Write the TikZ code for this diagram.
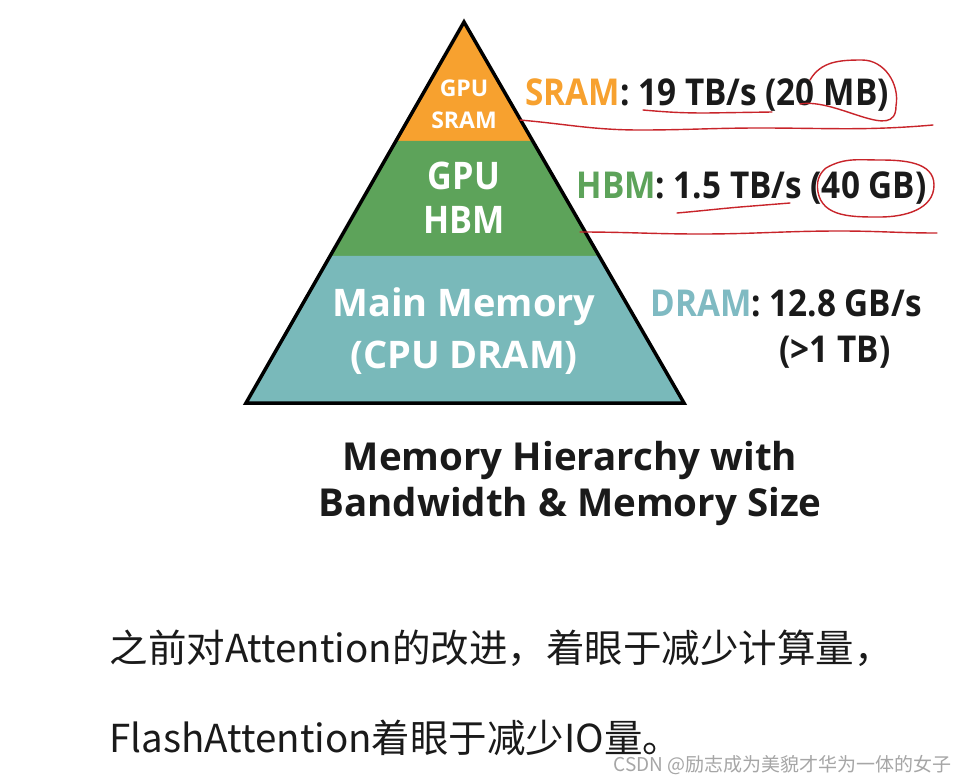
\documentclass[tikz,border=0pt]{standalone}
\usepackage{fontspec}
\setmainfont{Open Sans}
\newfontfamily\narrowfont{Open Sans}[FakeStretch=0.9]
\newfontfamily\cjk{Noto Sans CJK SC}
\usetikzlibrary{positioning, calc}

\definecolor{sramorange}{HTML}{F7A12F}
\definecolor{hbmgreen}{HTML}{5DA35A}
\definecolor{dramteal}{HTML}{79B9BA}
\definecolor{dramtext}{HTML}{7FBAC2}
\definecolor{penred}{HTML}{C8242A}
\definecolor{inkdark}{HTML}{1A1A1A}

\begin{document}
\begin{tikzpicture}[x=1pt, y=-1pt,
    layertext/.style={white, font=\narrowfont\bfseries\fontsize{38}{44}\selectfont, align=center},
    bwtext/.style={inkdark, anchor=west, font=\narrowfont\bfseries\fontsize{37}{44}\selectfont},
    cntext/.style={inkdark, anchor=west, font=\cjk\fontsize{38.5}{44}\selectfont},
    pen/.style={penred, line width=1.4pt, line cap=round}]
        \useasboundingbox (0,0) rectangle (959,782);
        \fill[white] (0,0) rectangle (959,782);

        % Pyramid
        \coordinate (top) at (464,22);
        \coordinate (bl) at (246,403);
        \coordinate (br) at (684,403);
        \coordinate (s1l) at ($(top)!0.312!(bl)$);
        \coordinate (s1r) at ($(top)!0.312!(br)$);
        \coordinate (s2l) at ($(top)!0.614!(bl)$);
        \coordinate (s2r) at ($(top)!0.614!(br)$);
        \fill[sramorange] (top) -- (s1l) -- (s1r) -- cycle;
        \fill[hbmgreen] (s1l) -- (s2l) -- (s2r) -- (s1r) -- cycle;
        \fill[dramteal] (s2l) -- (bl) -- (br) -- (s2r) -- cycle;
        \draw[line width=3.5pt, line join=miter] (top) -- (bl) -- (br) -- cycle;

        % Layers
        \node[layertext, font=\bfseries\fontsize{23}{32}\selectfont] (gpusram) at (464,104) {GPU\\SRAM};
        \node[layertext] (gpuhbm) at (464,198) {GPU\\HBM};
        \node[layertext, font=\bfseries\fontsize{38}{52}\selectfont] (mainmem) at (464,331) {Main Memory\\(CPU DRAM)};

        % Bandwidth and size
        \node[bwtext] (sramlbl) at (522,95) {\textcolor{sramorange}{SRAM}: 19 TB/s (20 MB)};
        \node[bwtext] (hbmlbl) at (573,188) {\textcolor{hbmgreen}{HBM}: 1.5 TB/s (40 GB)};
        \node[bwtext] (dramlbl) at (647,303) {\textcolor{dramtext}{DRAM}: 12.8 GB/s};
        \node[inkdark, font=\narrowfont\bfseries\fontsize{37}{44}\selectfont] (dramsize) at (835,352) {(>1 TB)};

        % Caption
        \node[inkdark, font=\bfseries\fontsize{38.5}{46}\selectfont, align=center] (caption) at (570,483) {Memory Hierarchy with\\Bandwidth \& Memory Size};

        % Pen marks
        \draw[pen] (643,110) to[out=-5, in=180] (706,113) -- (772,112);
        \draw[pen] (800,104) to[out=10, in=-90] (896,106) to[out=80, in=0] (862,60) to[out=180, in=60] (810,80);
        \draw[pen] (520,120) to[out=-5, in=180] (640,130) to[out=0, in=180] (760,128) to[out=0, in=185] (933,125);
        \draw[pen] (677,213) to[out=5, in=185] (740,207) -- (790,203);
        \draw[pen] (826,168) to[out=30, in=180] (880,160) to[out=0, in=90] (934,185) to[out=-90, in=0] (880,217) to[out=180, in=-80] (818,192) to[out=100, in=220] (826,168);
        \draw[pen] (580,232) to[out=0, in=180] (700,234) to[out=0, in=180] (840,231) to[out=0, in=180] (937,233);

        % Notes
        \node[cntext] (note1) at (106,648) {之前对Attention的改进，着眼于减少计算量，};
        \node[cntext] (note2) at (106,738) {FlashAttention着眼于减少IO量。};
        \node[gray!70, anchor=east, font=\cjk\fontsize{19}{22}\selectfont] (mark) at (955,765) {CSDN @励志成为美貌才华为一体的女子};
    \end{tikzpicture}
\end{document}
